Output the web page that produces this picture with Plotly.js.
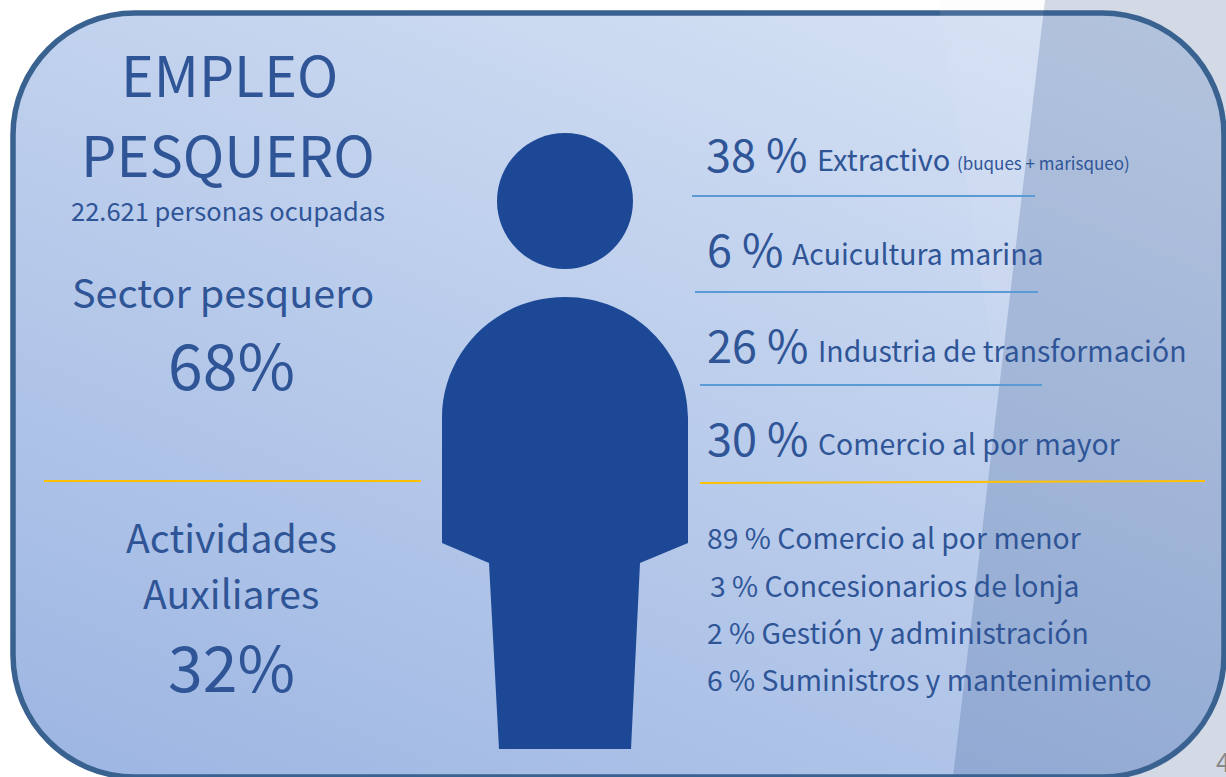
<!DOCTYPE html>
<html><head><meta charset="utf-8">
<script src="https://cdn.plot.ly/plotly-3.0.1.min.js"></script>
<style>
html,body{margin:0;padding:0;background:#fff;width:1226px;height:777px;overflow:hidden}
#bg{position:absolute;left:13px;top:13px;width:1211px;height:764px;border-radius:122px;background:linear-gradient(22deg,#9cb5e2 0%,#d9e4f5 100%)}
#chart{position:absolute;left:0;top:0;width:1226px;height:777px}
</style></head><body>
<div id="bg"></div><div id="chart"></div>
<script>
// ----- Data -----
var titleLines = ["EMPLEO", "PESQUERO"];
var totalText = "22.621 personas ocupadas";
var sectorNames = ["Sector pesquero", "Actividades", "Auxiliares"];
var sectorShares = [68, 32];
var mainShares = [38, 6, 26, 30];
var mainLabels = ["Extractivo", "Acuicultura marina", "Industria de transformación", "Comercio al por mayor"];
var mainNote = "(buques + marisqueo)";
var auxShares = [89, 3, 2, 6];
var auxLabels = ["Comercio al por menor", "Concesionarios de lonja", "Gestión y administración", "Suministros y mantenimiento"];
var pageNumber = "4";

// ----- Layout constants -----
var FONT = '"Noto Sans CJK SC","Noto Sans",sans-serif';
var TXT = '#2f5597', BLUE = '#5b9bd5', GOLD = '#ffc000', NAVY = '#1c4896', EDGE = '#3a6290';
var mainX = [704, 705, 705, 705], mainY = [152, 247, 343, 436];
var mainLabelX = [815, 790, 816, 816], mainLabelY = [158, 252, 349, 442];
var auxX = [705, 708, 705, 705], auxY = [536, 584, 631, 678];
var sepLines = [[692,196,1035,196],[695,292,1038,292],[700,385,1042,385]];
var goldLines = [[44,481,421,481],[700,483,1205,481]];

function note(text, x, y, size, anchor, color) {
  return {text: text, x: x, y: y, xref: 'x', yref: 'y', showarrow: false,
          xanchor: anchor || 'center', yanchor: 'middle',
          font: {family: FONT, size: size, color: color || TXT}};
}
var ann = [
  note(titleLines[0], 229, 73, 55.6),
  note(titleLines[1], 228, 152, 56),
  note(totalText, 228, 209, 25.5),
  note(sectorNames[0], 223, 290, 39.6),
  note(sectorShares[0] + '%', 231, 362, 62.5),
  note(sectorNames[1], 231, 536, 39.2),
  note(sectorNames[2], 231, 592, 39.2),
  note(sectorShares[1] + '%', 231, 664, 62.5),
  note(mainNote, 955, 162, 17, 'left'),
  note(pageNumber, 1214, 760, 26, 'left', '#898989')
];
mainShares.forEach(function (v, i) {
  ann.push(note(v + ' %', mainX[i], mainY[i], 45, 'left'));
  ann.push(note(mainLabels[i], mainLabelX[i], mainLabelY[i], i === 0 ? 29 : 28.4, 'left'));
});
auxShares.forEach(function (v, i) {
  ann.push(note(v + ' % ' + auxLabels[i], auxX[i], auxY[i], 28.35, 'left'));
});

var shapes = [];
// translucent panel and light wedge
shapes.push({type:'path', path:'M1045,0 L1226,0 L1226,777 L953,777 Z', fillcolor:'rgba(23,60,123,0.19)', line:{width:0}, layer:'below', xref:'x', yref:'y'});
// rounded frame
var k = 122 * 0.4477;
var L=13,T=13,R=1224,B=777,r=122;
var framePath = 'M'+(L+r)+','+T+' L'+(R-r)+','+T+' C'+(R-k)+','+T+' '+R+','+(T+k)+' '+R+','+(T+r)+
  ' L'+R+','+(B-r)+' C'+R+','+(B-k)+' '+(R-k)+','+B+' '+(R-r)+','+B+' L'+(L+r)+','+B+
  ' C'+(L+k)+','+B+' '+L+','+(B-k)+' '+L+','+(B-r)+' L'+L+','+(T+r)+' C'+L+','+(T+k)+' '+(L+k)+','+T+' '+(L+r)+','+T+' Z';
shapes.push({type:'path', path:framePath, fillcolor:'rgba(0,0,0,0)', line:{color:EDGE, width:5.5}, layer:'below', xref:'x', yref:'y'});
shapes.push({type:'path', path:'M938,0 L1045,0 L999,390 Z', fillcolor:'rgba(228,233,240,0.09)', line:{width:0}, layer:'below', xref:'x', yref:'y'});
sepLines.forEach(function (s) {
  shapes.push({type:'line', x0:s[0], y0:s[1], x1:s[2], y1:s[3], line:{color:BLUE, width:2}, layer:'below', xref:'x', yref:'y'});
});
goldLines.forEach(function (s) {
  shapes.push({type:'line', x0:s[0], y0:s[1], x1:s[2], y1:s[3], line:{color:GOLD, width:2}, layer:'below', xref:'x', yref:'y'});
});
// person
shapes.push({type:'circle', x0:497, y0:133, x1:633, y1:269, fillcolor:NAVY, line:{width:0}, xref:'x', yref:'y', layer:'above'});
shapes.push({type:'path', xref:'x', yref:'y', layer:'above', fillcolor:NAVY, line:{width:0},
  path:'M442,418 C442,351 497,297 565,297 C633,297 688,351 688,418 L688,543 L640,563 L631,749 L499,749 L489,563 L442,543 Z'});

var traces = [{type:'scatter', x:[0,1226], y:[0,777], mode:'markers', marker:{opacity:0}, hoverinfo:'skip', showlegend:false}];
var layout = {
  width:1226, height:777, margin:{l:0,r:0,t:0,b:0},
  paper_bgcolor:'rgba(0,0,0,0)', plot_bgcolor:'rgba(0,0,0,0)',
  xaxis:{range:[0,1226], visible:false, fixedrange:true},
  yaxis:{range:[777,0], visible:false, fixedrange:true},
  shapes:shapes, annotations:ann, showlegend:false
};
Plotly.newPlot('chart', traces, layout, {displayModeBar:false, staticPlot:true});
</script>
</body></html>
